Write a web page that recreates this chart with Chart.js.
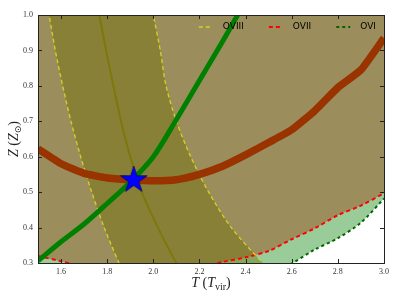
<!DOCTYPE html>
<html>
<head>
<meta charset="utf-8">
<script src="https://cdn.jsdelivr.net/npm/chart.js@4.4.1/dist/chart.umd.min.js"></script>
<style>
  html, body { margin: 0; padding: 0; background: #fff; }
  #wrap { width: 399px; height: 299px; }
</style>
</head>
<body>
<div id="wrap"><canvas id="chart"></canvas></div>
<script>
// sicaklik ekseni (T / T_vir)
const tGrid = [1.5, 1.6, 1.7, 1.8, 1.9, 2.0, 2.1, 2.2, 2.3, 2.4, 2.5, 2.6, 2.7, 2.8, 2.9, 3.0];
// OVI alt siniri (yesil kesikli)
const oviZ = [0.22, 0.2, 0.185, 0.175, 0.17, 0.17, 0.175, 0.185, 0.2, 0.22, 0.26, 0.298, 0.338, 0.37, 0.414, 0.482];
// OVII alt siniri (kirmizi kesikli)
const oviiZ = [0.32, 0.305, 0.29, 0.28, 0.272, 0.27, 0.274, 0.288, 0.303, 0.316, 0.334, 0.367, 0.398, 0.435, 0.462, 0.497];
// kalin kahverengi egri
const brownZ = [0.622, 0.58, 0.553, 0.54, 0.535, 0.532, 0.535, 0.55, 0.573, 0.605, 0.64, 0.676, 0.73, 0.795, 0.845, 0.935];
// kalin yesil egri
const greenT = [1.5, 1.6, 1.7, 1.8, 1.9, 2.0, 2.1, 2.2, 2.3, 2.4];
const greenZ = [0.306, 0.36, 0.41, 0.468, 0.528, 0.6, 0.705, 0.815, 0.925, 1.04];
// OVIII bandi: Z'ye gore T degerleri
const bandZ = [1.05, 1.0, 0.9, 0.8, 0.7, 0.6, 0.5, 0.4, 0.3, 0.25];
const oviiiLowT = [1.535, 1.548, 1.575, 1.607, 1.643, 1.685, 1.733, 1.787, 1.851, 1.885];
const oviiiHighT = [1.985, 2.0, 2.03, 2.055, 2.10, 2.162, 2.24, 2.338, 2.475, 2.56];
const oviiiMidT = [1.752, 1.766, 1.795, 1.827, 1.86, 1.90, 1.95, 2.02, 2.10, 2.15];
// yildiz
const starT = [1.915];
const starZ = [0.534];
// eksen etiketleri
const xTicks = [1.6, 1.8, 2.0, 2.2, 2.4, 2.6, 2.8, 3.0];
const yTicks = [0.3, 0.4, 0.5, 0.6, 0.7, 0.8, 0.9, 1.0];
const legendNames = ['OVIII', 'OVII', 'OVI'];

const pts = (xs, ys) => xs.map((x, i) => ({ x: x, y: ys[i] }));

const legendStyles = [
  { color: 'rgb(215,210,30)', width: 1.3, dash: [4, 3] },
  { color: '#ff0000', width: 2, dash: [4, 3] },
  { color: '#006400', width: 2, dash: [3, 3] },
];

function starImage(R) {
  const s = Math.ceil(R * 2 + 4);
  const c = document.createElement('canvas');
  c.width = s; c.height = s;
  const g = c.getContext('2d');
  g.translate(s / 2, s / 2);
  g.beginPath();
  for (let i = 0; i < 10; i++) {
    const r = i % 2 ? R * 0.382 : R;
    const a = -Math.PI / 2 + i * Math.PI / 5;
    g.lineTo(r * Math.cos(a), r * Math.sin(a));
  }
  g.closePath();
  g.fillStyle = '#0000ff';
  g.fill();
  g.lineWidth = 0.8;
  g.strokeStyle = '#00006a';
  g.stroke();
  return c;
}

const serif = '"Liberation Serif", "DejaVu Serif", serif';

function drawPieces(ctx, pieces, cx, y) {
  let total = 0;
  pieces.forEach(p => { ctx.font = p.f; total += ctx.measureText(p.t).width; });
  let x = cx - total / 2;
  pieces.forEach(p => {
    ctx.font = p.f;
    ctx.fillText(p.t, x, y + (p.dy || 0));
    x += ctx.measureText(p.t).width;
  });
}

// cerceve, iceri bakan tikler, eksen basliklari, lejant
const decorPlugin = {
  id: 'decor',
  afterDraw(chart) {
    const ctx = chart.ctx;
    const a = chart.chartArea;
    const xs = chart.scales.x, ys = chart.scales.y;
    ctx.save();
    ctx.strokeStyle = '#222';
    ctx.lineWidth = 1;
    ctx.beginPath();
    xTicks.forEach(v => {
      const px = Math.round(xs.getPixelForValue(v)) + 0.5;
      ctx.moveTo(px, a.bottom); ctx.lineTo(px, a.bottom - 4);
      ctx.moveTo(px, a.top); ctx.lineTo(px, a.top + 4);
    });
    yTicks.forEach(v => {
      const py = Math.round(ys.getPixelForValue(v)) + 0.5;
      ctx.moveTo(a.left, py); ctx.lineTo(a.left + 4, py);
      ctx.moveTo(a.right, py); ctx.lineTo(a.right - 4, py);
    });
    ctx.stroke();
    ctx.strokeRect(Math.round(a.left) + 0.5, Math.round(a.top) + 0.5,
      Math.round(a.right - a.left), Math.round(a.bottom - a.top));

    // eksen basliklari
    ctx.fillStyle = '#222';
    ctx.textBaseline = 'alphabetic';
    ctx.textAlign = 'left';
    drawPieces(ctx, [
      { t: 'T', f: 'italic 14px ' + serif },
      { t: ' (', f: '14px ' + serif },
      { t: 'T', f: 'italic 14px ' + serif },
      { t: 'vir', f: '10px ' + serif, dy: 3 },
      { t: ')', f: '14px ' + serif },
    ], (a.left + a.right) / 2, 286.5);

    ctx.save();
    ctx.translate(17.5, (a.top + a.bottom) / 2);
    ctx.rotate(-Math.PI / 2);
    drawPieces(ctx, [
      { t: 'Z', f: 'italic 14px ' + serif },
      { t: ' (', f: '14px ' + serif },
      { t: 'Z', f: 'italic 14px ' + serif },
      { t: '\u2299', f: '9px "DejaVu Sans"', dy: 3 },
      { t: ')', f: '14px ' + serif },
    ], 0, 0);
    ctx.restore();

    // lejant (sagdan sola)
    ctx.font = '9px "DejaVu Sans"';
    ctx.textBaseline = 'middle';
    const ly = a.top + 12;
    let x = a.right - 8;
    for (let i = legendNames.length - 1; i >= 0; i--) {
      const w = ctx.measureText(legendNames[i]).width;
      x -= w;
      ctx.fillStyle = '#000';
      ctx.fillText(legendNames[i], x, ly);
      const s = legendStyles[i];
      ctx.beginPath();
      ctx.strokeStyle = s.color;
      ctx.lineWidth = s.width;
      ctx.setLineDash(s.dash);
      ctx.moveTo(x - 24, ly); ctx.lineTo(x - 10, ly);
      ctx.stroke();
      ctx.setLineDash([]);
      x -= 24 + 25;
    }
    ctx.restore();
  }
};

const bandShape = pts(oviiiLowT, bandZ).concat(pts(oviiiHighT, bandZ).reverse());
const smooth = 0.3;

new Chart(document.getElementById('chart'), {
  type: 'line',
  data: {
    datasets: [
      { label: 'star', data: pts(starT, starZ), showLine: false, pointStyle: starImage(14),
        pointRadius: 14, order: 1, clip: false },
      { label: 'green', data: pts(greenT, greenZ), borderColor: '#008000', borderWidth: 5,
        tension: smooth, pointRadius: 0, order: 2, clip: 0 },
      { label: 'brown', data: pts(tGrid, brownZ), borderColor: '#993300', borderWidth: 7.5,
        tension: 0.15, pointRadius: 0, order: 3, clip: 0 },
      { label: 'OVIII mid', data: pts(oviiiMidT, bandZ), borderColor: 'rgb(125,120,10)', borderWidth: 2,
        tension: smooth, pointRadius: 0, order: 4, clip: 0 },
      { label: 'OVIII low', data: pts(oviiiLowT, bandZ), borderColor: legendStyles[0].color,
        borderWidth: legendStyles[0].width, borderDash: legendStyles[0].dash, tension: smooth,
        pointRadius: 0, order: 5, clip: 0 },
      { label: 'OVIII high', data: pts(oviiiHighT, bandZ), borderColor: legendStyles[0].color,
        borderWidth: legendStyles[0].width, borderDash: legendStyles[0].dash, tension: smooth,
        pointRadius: 0, order: 6, clip: 0 },
      { label: 'OVIII band', data: bandShape, borderWidth: 0, borderColor: 'rgba(0,0,0,0)',
        backgroundColor: 'rgba(110,107,0,0.4)', fill: 'shape', tension: smooth,
        pointRadius: 0, order: 7, clip: 0 },
      { label: 'OVII', data: pts(tGrid, oviiZ), borderColor: legendStyles[1].color,
        borderWidth: legendStyles[1].width, borderDash: legendStyles[1].dash, tension: smooth,
        backgroundColor: 'rgba(157,66,17,0.45)', fill: 'end', pointRadius: 0, order: 8, clip: 0 },
      { label: 'OVI', data: pts(tGrid, oviZ), borderColor: legendStyles[2].color,
        borderWidth: legendStyles[2].width, borderDash: legendStyles[2].dash, tension: smooth,
        backgroundColor: 'rgba(0,128,0,0.4)', fill: 'end', pointRadius: 0, order: 9, clip: 0 },
    ]
  },
  options: {
    responsive: true,
    maintainAspectRatio: false,
    animation: false,
    layout: { padding: { top: 13, right: 15, left: 0, bottom: 0 } },
    plugins: {
      legend: { display: false },
      tooltip: { enabled: false },
      filler: { drawTime: 'beforeDatasetsDraw' },
    },
    scales: {
      x: {
        type: 'linear', min: 1.5, max: 3.0,
        grid: { display: false, drawTicks: false },
        border: { display: false },
        afterBuildTicks: s => { s.ticks = xTicks.map(v => ({ value: v })); },
        afterFit: s => { s.height = 36; },
        ticks: { font: { family: serif, size: 8 }, color: '#333', padding: 4,
          maxRotation: 0, callback: v => v.toFixed(1) },
      },
      y: {
        type: 'linear', min: 0.3, max: 1.0,
        grid: { display: false, drawTicks: false },
        border: { display: false },
        afterBuildTicks: s => { s.ticks = yTicks.map(v => ({ value: v })); },
        afterFit: s => { s.width = 38; },
        ticks: { font: { family: serif, size: 8 }, color: '#333', padding: 5,
          callback: v => v.toFixed(1) },
      },
    },
  },
  plugins: [decorPlugin],
});
</script>
</body>
</html>
